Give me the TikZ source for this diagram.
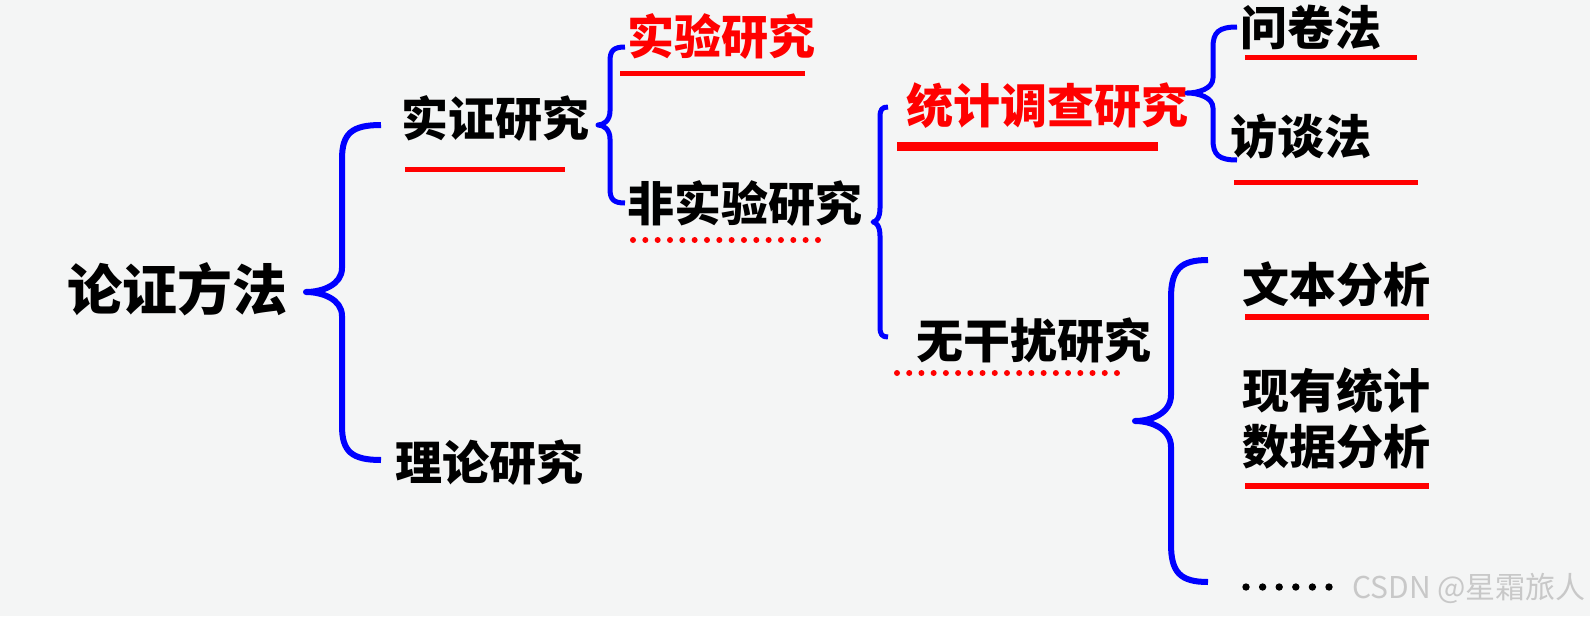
\documentclass[tikz,border=0pt]{standalone}
\usepackage{fontspec}
\newfontfamily\cjk{Noto Sans CJK SC}
\definecolor{bgcol}{RGB}{244,245,245}
\definecolor{myred}{RGB}{255,0,0}
\definecolor{myblue}{RGB}{0,0,255}
\definecolor{wmgray}{RGB}{200,200,200}
\newcommand\mybrace[9]{% #1 xend, #2 xv, #3 xtip, #4 ytop, #5 ytip, #6 ybot, #7 corner, #8 tip half-height, #9 width
\draw[bracestyle,line width=#9] (#1,#4) .. controls ({#2+0.25*(#1-#2)},#4) and (#2,{#4+0.25*#7}) .. (#2,{#4+#7})
 -- (#2,{#5-#8}) .. controls (#2,{#5-0.3*#8}) and ({#3+0.45*(#2-#3)},#5) .. (#3,#5)
 .. controls ({#3+0.45*(#2-#3)},#5) and (#2,{#5+0.3*#8}) .. (#2,{#5+#8})
 -- (#2,{#6-#7}) .. controls (#2,{#6-0.25*#7}) and ({#2+0.25*(#1-#2)},#6) .. (#1,#6);}
\tikzset{
  bracestyle/.style={draw=myblue,line cap=butt,line join=round},
  lbl/.style={inner sep=0pt,anchor=center,font=\cjk\bfseries\fontsize{47}{47}\selectfont},
  big/.style={lbl,font=\cjk\bfseries\fontsize{55}{55}\selectfont},
  redtxt/.style={text=myred},
  uline/.style={draw=myred,line width=5pt},
}
\begin{document}
\begin{tikzpicture}[x=1pt,y=-1pt]
\fill[bgcol] (0,0) rectangle (1590,616);
\useasboundingbox (0,0) rectangle (1590,616);
% labels
\node[big] (lz) at (177,289) {论证方法};
\node[lbl] (sz) at (495,118) {实证研究};
\node[lbl] (ll) at (489,463) {理论研究};
\node[lbl,redtxt] (sy) at (721,36) {实验研究};
\node[lbl] (fsy) at (745,203) {非实验研究};
\node[lbl,redtxt] (tj) at (1047,106) {统计调查研究};
\node[lbl] (wj) at (1311,27) {问卷法};
\node[lbl] (ft) at (1301,137) {访谈法};
\node[lbl] (wg) at (1034,341) {无干扰研究};
\node[lbl] (wb) at (1336,284) {文本分析};
\node[lbl] (xy) at (1336,391) {现有统计};
\node[lbl] (sj) at (1336,447) {数据分析};
\node[inner sep=0pt,anchor=west,text=wmgray,font=\cjk\fontsize{30}{30}\selectfont] (wm) at (1352,588) {CSDN @星霜旅人};
% braces
\mybrace{381}{342}{306}{125}{292}{460}{34}{24}{6pt}
\mybrace{625}{610}{598}{47}{125}{203}{14}{14}{5pt}
\mybrace{1237}{1213}{1187}{27}{93}{160}{20}{15}{5pt}
\mybrace{888}{880}{873}{107}{222}{337}{10}{14}{5pt}
\mybrace{1208}{1171}{1135}{260}{421}{582}{38}{26}{6pt}
% underlines
\draw[uline] (405,169) -- (565,169);
\draw[uline] (620,73) -- (805,73);
\draw[uline,line width=9pt] (897,146) -- (1158,146);
\draw[uline] (1245,57) -- (1417,57);
\draw[uline] (1234,182) -- (1418,182);
\draw[uline,line width=6pt] (1245,317) -- (1429,317);
\draw[uline,line width=6pt] (1245,486) -- (1429,486);
% dotted lines
\foreach \i in {0,...,15} \fill[myred] ({633+\i*12.33},240) circle (3);
\foreach \i in {0,...,18} \fill[myred] ({897+\i*12.22},373) circle (3);
\foreach \i in {0,...,5} \fill[black] ({1246+\i*16.6},587) circle (3.7);
\end{tikzpicture}
\end{document}
